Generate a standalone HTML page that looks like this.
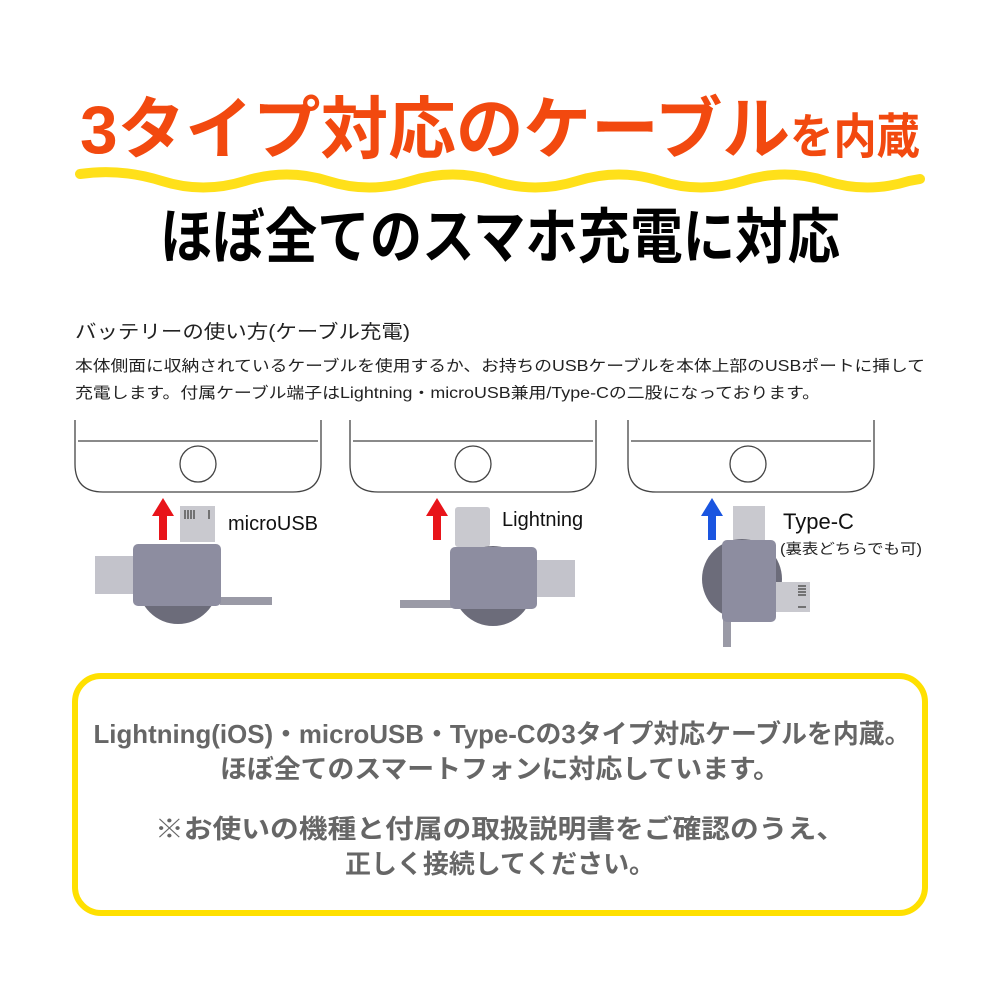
<!DOCTYPE html>
<html><head><meta charset="utf-8"><style>
html,body{margin:0;padding:0;background:#fff;}
svg{display:block;font-family:"Liberation Sans","Noto Sans CJK JP",sans-serif;}
</style></head><body>
<svg width="1000" height="1000" viewBox="0 0 1000 1000" xmlns="http://www.w3.org/2000/svg">
<rect width="1000" height="1000" fill="#fff"/>
<text x="80" y="153" font-size="68" font-weight="bold" fill="#f2490f" textLength="710" lengthAdjust="spacingAndGlyphs">3タイプ対応のケーブル</text>
<text x="790" y="153" font-size="48" font-weight="bold" fill="#f2490f" textLength="130" lengthAdjust="spacingAndGlyphs">を内蔵</text>
<path d="M80 174 Q121 168 162 181 T245 181 T328 181 T411 181 T494 181 T577 181 T660 181 T743 181 T826 181 T909 181 L920 179" fill="none" stroke="#ffe01a" stroke-width="10" stroke-linecap="round"/>
<text x="160" y="258" font-size="60" font-weight="bold" fill="#000" textLength="680" lengthAdjust="spacingAndGlyphs">ほぼ全てのスマホ充電に対応</text>
<text x="75" y="338" font-size="19" fill="#222" textLength="335" lengthAdjust="spacingAndGlyphs">バッテリーの使い方(ケーブル充電)</text>
<text x="75" y="371" font-size="15.5" fill="#222" textLength="850" lengthAdjust="spacingAndGlyphs">本体側面に収納されているケーブルを使用するか、お持ちのUSBケーブルを本体上部のUSBポートに挿して</text>
<text x="75" y="398" font-size="15.5" fill="#222" textLength="745" lengthAdjust="spacingAndGlyphs">充電します。付属ケーブル端子はLightning・microUSB兼用/Type-Cの二股になっております。</text>
<g fill="none" stroke="#444" stroke-width="1.3">
<path d="M75 420 V464 Q75 492 103 492 H293 Q321 492 321 464 V420"/>
<path d="M78 441 H318"/><circle cx="198" cy="464" r="18"/>
<path d="M350 420 V464 Q350 492 378 492 H568 Q596 492 596 464 V420"/>
<path d="M353 441 H593"/><circle cx="473" cy="464" r="18"/>
<path d="M628 420 V464 Q628 492 656 492 H846 Q874 492 874 464 V420"/>
<path d="M631 441 H871"/><circle cx="748" cy="464" r="18"/>
</g>
<!-- connector 1 -->
<path d="M159 540 V516 H152 L163 498 L174 516 H167 V540 Z" fill="#e8141a"/>
<rect x="180" y="506" width="35" height="36" fill="#c9c9cf"/>
<g stroke="#555" stroke-width="1.5"><path d="M185 510v9M188 510v9M191 510v9M194 510v9M209 510v9"/></g>
<rect x="95" y="556" width="40" height="38" fill="#c3c3cb"/>
<path d="M220 597 H272 V605 H220 Z" fill="#9a9aa6"/>
<circle cx="178" cy="584" r="40" fill="#6c6c7a"/>
<rect x="133" y="544" width="88" height="62" rx="5" fill="#8d8da0"/>
<text x="228" y="530" font-size="20" fill="#111">microUSB</text>
<!-- connector 2 -->
<path d="M433 540 V516 H426 L437 498 L448 516 H441 V540 Z" fill="#e8141a"/>
<rect x="455" y="507" width="35" height="40" rx="3" fill="#c9c9cf"/>
<rect x="535" y="560" width="40" height="37" fill="#c3c3cb"/>
<path d="M400 600 H452 V608 H400 Z" fill="#9a9aa6"/>
<circle cx="493" cy="586" r="40" fill="#6c6c7a"/>
<rect x="450" y="547" width="87" height="62" rx="5" fill="#8d8da0"/>
<text x="502" y="526" font-size="20" fill="#111">Lightning</text>
<!-- connector 3 -->
<path d="M708 540 V516 H701 L712 498 L723 516 H716 V540 Z" fill="#1a55e0"/>
<rect x="733" y="506" width="32" height="38" fill="#c9c9cf"/>
<circle cx="742" cy="579" r="40" fill="#6c6c7a"/>
<rect x="723" y="615" width="8" height="32" fill="#9a9aa6"/>
<rect x="773" y="582" width="37" height="30" fill="#c9c9cf"/>
<g stroke="#555" stroke-width="1.5"><path d="M798 586h8M798 589h8M798 592h8M798 595h8M798 607h8"/></g>
<rect x="722" y="540" width="54" height="82" rx="5" fill="#8d8da0"/>
<text x="783" y="529" font-size="22" fill="#111">Type-C</text>
<text x="780" y="554" font-size="14.5" fill="#222" textLength="142" lengthAdjust="spacingAndGlyphs">(裏表どちらでも可)</text>
<rect x="75" y="676" width="850" height="237" rx="26" fill="#fff" stroke="#ffe000" stroke-width="6"/>
<g font-weight="bold" fill="#666" text-anchor="middle">
<text x="502" y="743" font-size="26" textLength="817" lengthAdjust="spacingAndGlyphs">Lightning(iOS)・microUSB・Type-Cの3タイプ対応ケーブルを内蔵。</text>
<text x="500" y="778" font-size="26" textLength="560" lengthAdjust="spacingAndGlyphs">ほぼ全てのスマートフォンに対応しています。</text>
<text x="500" y="838" font-size="26" textLength="690" lengthAdjust="spacingAndGlyphs">※お使いの機種と付属の取扱説明書をご確認のうえ、</text>
<text x="500" y="873" font-size="26" textLength="310" lengthAdjust="spacingAndGlyphs">正しく接続してください。</text>
</g>
</svg>
</body></html>
